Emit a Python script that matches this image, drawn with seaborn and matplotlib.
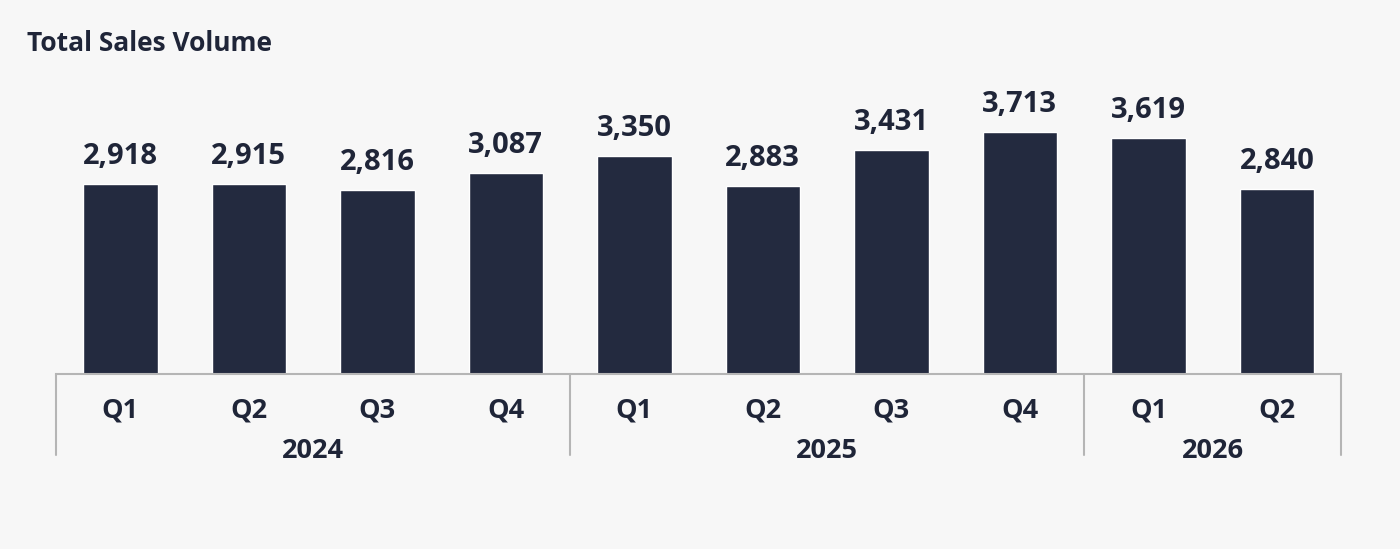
import pandas as pd
import matplotlib.pyplot as plt
import matplotlib.transforms as mtransforms
import seaborn as sns

years = ["2024", "2024", "2024", "2024", "2025", "2025", "2025", "2025", "2026", "2026"]
quarters = ["Q1", "Q2", "Q3", "Q4", "Q1", "Q2", "Q3", "Q4", "Q1", "Q2"]
sales = [2918, 2915, 2816, 3087, 3350, 2883, 3431, 3713, 3619, 2840]

BG = "#f7f7f7"
BAR = "#232a3f"
TXT = "#1f2538"
LINE = "#b5b5b5"

sns.set_theme(style="white")
plt.rcParams["font.family"] = ["Open Sans", "DejaVu Sans"]

df = pd.DataFrame({"idx": range(len(sales)), "sales": sales})

fig = plt.figure(figsize=(14, 5.49), dpi=100, facecolor=BG)
ax = fig.add_axes([0.04, 0.3188, 0.918, 0.57])
ax.set_facecolor(BG)

sns.barplot(data=df, x="idx", y="sales", color=BAR, width=0.58,
            saturation=1, ax=ax)

ax.set_ylim(0, 4800)
ax.set_xlim(-0.5, len(sales) - 0.5)
for s in ["top", "right", "left"]:
    ax.spines[s].set_visible(False)
ax.spines["bottom"].set_color(LINE)
ax.spines["bottom"].set_linewidth(1.5)
ax.set_yticks([])
ax.set_xticks([])
ax.set_xlabel("")
ax.set_ylabel("")

# value labels
for i, v in enumerate(sales):
    ax.text(i, v + 200, f"{v:,}", ha="center", va="bottom",
            fontsize=21, fontweight="bold", color=TXT)

# two-level category axis
trans = mtransforms.blended_transform_factory(ax.transData, ax.transAxes)
for i, q in enumerate(quarters):
    ax.text(i, -0.118, q, transform=trans, ha="center", va="center",
            fontsize=19.5, fontweight="bold", color=TXT)

groups = {}
for i, y in enumerate(years):
    groups.setdefault(y, []).append(i)
bounds = [-0.5]
for y, idxs in groups.items():
    ax.text((idxs[0] + idxs[-1]) / 2, -0.245, y, transform=trans,
            ha="center", va="center", fontsize=19.5, fontweight="bold", color=TXT)
    bounds.append(idxs[-1] + 0.5)
for b in bounds:
    ax.plot([b, b], [0, -0.26], transform=trans, color=LINE, lw=1.5,
            clip_on=False)

fig.text(0.019, 0.921, "Total Sales Volume", ha="left", va="center",
         fontsize=19, fontweight="bold", color=TXT)

fig.savefig("out.png", dpi=100, facecolor=BG)
